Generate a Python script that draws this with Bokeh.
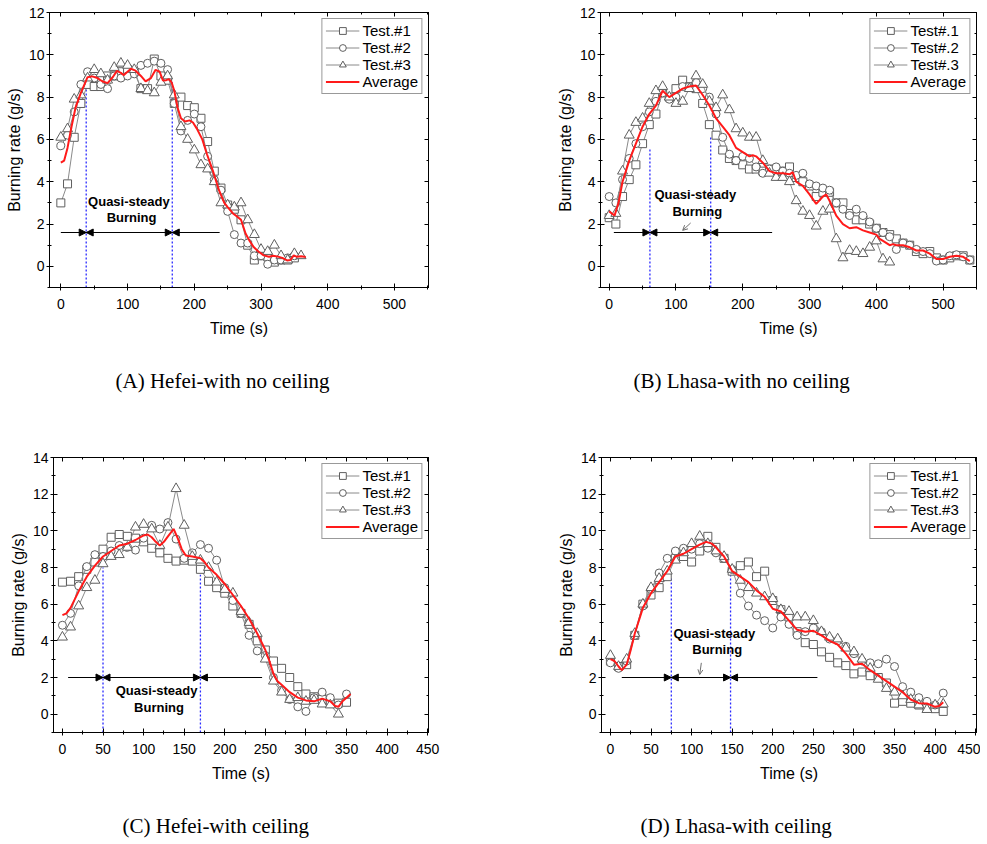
from bokeh.plotting import figure
from bokeh.models import (Range1d, SingleIntervalTicker, LinearAxis, Legend, LegendItem,
                          Title, Arrow, NormalHead, OpenHead, ColumnDataSource)
from bokeh.layouts import column, row
from bokeh.embed import file_html
from bokeh.resources import INLINE
from bokeh.core.properties import value

SANS = "Liberation Sans"
SERIF = "Liberation Serif"

# ---------------- Panel A : Hefei - no ceiling ----------------
tA1 = [0, 10, 20, 30, 40, 50, 60, 70, 80, 90, 100, 110, 120, 130, 140, 150, 160, 170, 180, 190,
       200, 210, 220, 230, 240, 250, 260, 270, 280, 290, 300, 310, 320, 330, 340, 350]
A1 = [3.0, 3.9, 6.1, 7.7, 8.6, 8.5, 8.5, 9.0, 9.0, 9.2, 9.3, 9.2, 8.4, 8.4, 9.8, 9.0, 8.8, 7.7, 8.0, 7.6,
      7.5, 7.0, 5.9, 4.5, 3.7, 2.9, 2.7, 2.2, 1.0, 0.3, 0.5, 0.45, 0.2, 0.3, 0.3, 0.4]
tA2 = [0, 10, 20, 30, 40, 50, 60, 70, 80, 90, 100, 110, 120, 130, 140, 150, 160, 170, 180, 190,
       200, 210, 220, 230, 240, 250, 260, 270, 280, 290, 300, 310, 320, 330, 340, 350]
A2 = [5.7, 6.2, 7.3, 8.6, 9.2, 8.9, 8.6, 8.4, 9.0, 8.9, 9.0, 9.1, 9.5, 9.6, 9.7, 9.6, 9.3, 7.7, 6.4, 6.9,
      7.2, 6.6, 5.2, 4.1, 3.6, 2.6, 1.5, 1.1, 1.1, 0.5, 0.5, 0.1, 0.3, 0.3, 0.4, 0.5]
tA3 = [0, 10, 20, 30, 40, 50, 60, 70, 80, 90, 100, 110, 120, 130, 140, 150, 160, 170, 180, 190,
       200, 210, 220, 230, 240, 250, 260, 270, 280, 290, 300, 310, 320, 330, 340, 350, 360]
A3 = [6.1, 6.5, 7.9, 8.1, 8.9, 9.3, 9.1, 8.8, 9.4, 9.6, 9.5, 9.3, 8.4, 8.3, 8.2, 8.7, 9.0, 8.1, 6.6, 6.0,
      5.5, 4.8, 4.6, 4.0, 3.0, 2.9, 2.8, 3.0, 2.2, 1.5, 0.8, 0.7, 1.0, 0.5, 0.3, 0.6, 0.5]
tAavg = [0, 5, 10, 16, 22, 30, 40, 47, 55, 62, 70, 78, 84, 90, 94, 100, 105, 112, 120, 127,
         135, 142, 148, 153, 158, 162, 166, 170, 175, 180, 186, 193, 198, 204, 212, 219, 228, 237, 245, 250,
         258, 264, 270, 277, 283, 289, 296, 304, 312, 318, 324, 332, 339, 344, 349, 354, 360, 367]
Aavg = [4.9, 5.0, 5.6, 6.6, 7.5, 8.2, 8.94, 8.98, 8.9, 8.75, 8.66, 8.95, 9.24, 9.15, 9.04, 9.2, 9.34, 9.25, 9.0, 8.74,
        8.9, 9.29, 9.2, 8.79, 8.8, 8.85, 8.7, 8.3, 7.5, 7.0, 6.85, 6.9, 6.8, 6.5, 6.0, 5.3, 4.5, 3.6, 3.0, 2.8,
        2.5, 2.36, 2.2, 1.54, 1.2, 0.91, 0.7, 0.52, 0.45, 0.5, 0.47, 0.4, 0.28, 0.3, 0.52, 0.45, 0.48, 0.44]
qA = [38, 167]          # quasi-steady limits (s)
qA_top = [8.7, 8.7]
qA_line = [0, 238, 1.6]  # start, end, level

# ---------------- Panel B : Lhasa - no ceiling ----------------
tB1 = [0, 10, 20, 30, 40, 50, 60, 70, 80, 90, 100, 110, 120, 130, 140, 150, 160, 170, 180, 190,
       200, 210, 220, 230, 240, 250, 260, 270, 280, 290, 300, 310, 320, 330, 340, 350, 360, 370, 380, 390,
       400, 410, 420, 430, 440, 450, 460, 470, 480, 490, 500, 510, 520, 530, 540]
B1 = [2.3, 2.0, 3.3, 4.1, 4.8, 5.8, 6.7, 7.2, 8.2, 8.0, 8.4, 8.8, 8.5, 8.4, 7.7, 6.7, 6.2, 5.5, 5.1, 5.0,
      4.8, 4.6, 4.6, 4.5, 4.6, 4.5, 4.5, 4.7, 4.2, 4.0, 3.8, 3.3, 3.5, 3.5, 3.0, 3.0, 2.5, 2.2, 2.2, 2.0,
      1.8, 1.6, 1.5, 1.3, 1.1, 1.0, 0.7, 0.6, 0.7, 0.4, 0.3, 0.4, 0.5, 0.5, 0.3]
tB2 = tB1
B2 = [3.3, 3.0, 4.1, 5.1, 5.8, 6.6, 7.3, 7.8, 8.2, 7.9, 8.0, 8.5, 8.5, 8.7, 8.4, 8.0, 7.2, 6.1, 5.3, 5.0,
      5.2, 5.1, 4.7, 4.4, 4.6, 4.7, 4.5, 4.4, 4.3, 4.4, 3.9, 3.8, 3.7, 3.6, 3.0, 2.7, 2.4, 2.7, 2.4, 2.1,
      1.8, 1.6, 1.4, 0.8, 1.1, 1.0, 0.8, 0.7, 0.6, 0.25, 0.3, 0.5, 0.55, 0.45, 0.3]
tB3 = [0, 10, 20, 30, 40, 50, 60, 70, 80, 90, 100, 110, 120, 130, 140, 150, 160, 170, 180, 190,
       200, 210, 220, 230, 240, 250, 260, 270, 280, 290, 300, 310, 320, 330, 340, 350, 360, 370, 380, 390,
       400, 410, 420]
B3 = [2.4, 2.5, 4.5, 6.2, 6.8, 7.0, 7.7, 8.3, 8.5, 8.0, 7.7, 7.8, 8.4, 9.0, 8.6, 7.8, 7.5, 8.1, 7.4, 6.5,
      6.3, 6.1, 6.1, 5.0, 4.4, 4.2, 4.2, 4.0, 3.1, 2.6, 2.4, 1.9, 2.6, 2.7, 1.3, 0.4, 0.75, 0.7, 0.6, 0.9,
      1.2, 0.35, 0.2]
tBavg = [0, 8, 14, 20, 30, 40, 50, 60, 70, 80, 90, 100, 110, 120, 130, 140, 150, 160, 170, 180,
         190, 200, 210, 215, 220, 230, 240, 250, 260, 270, 275, 280, 290, 300, 310, 320, 325, 330, 340, 350,
         360, 370, 380, 390, 400, 405, 410, 420, 425, 430, 440, 450, 460, 470, 480, 490, 500, 510, 520, 530, 540]
Bavg = [2.6, 2.4, 3.0, 4.0, 5.0, 5.8, 6.6, 7.2, 7.6, 8.3, 8.0, 8.2, 8.4, 8.5, 8.55, 8.1, 7.6, 7.0, 6.6, 6.2,
        5.6, 5.4, 5.2, 5.25, 5.2, 4.9, 4.5, 4.4, 4.4, 4.35, 4.45, 4.0, 3.8, 3.4, 2.95, 3.3, 3.4, 3.1, 2.4, 2.0,
        1.8, 1.85, 1.7, 1.6, 1.5, 1.3, 1.2, 1.0, 1.05, 1.0, 1.0, 0.9, 0.75, 0.75, 0.6, 0.35, 0.35, 0.45, 0.5, 0.45, 0.25]
qB = [61, 152]
qB_top = [5.6, 6.1]
qB_line = [7, 244, 1.6]
qB_ptr = [122, 2.05, 110, 1.7]

# ---------------- Panel C : Hefei - with ceiling ----------------
tC1 = [0, 10, 20, 30, 40, 50, 60, 70, 80, 90, 100, 110, 120, 130, 140, 150, 160, 170, 180, 190,
       200, 210, 220, 230, 240, 250, 260, 270, 280, 290, 300, 310, 320, 330, 340, 350]
C1 = [7.2, 7.25, 7.5, 7.9, 8.3, 9.0, 9.65, 9.8, 9.7, 9.6, 9.4, 9.05, 8.8, 8.5, 8.35, 8.4, 8.35, 7.9, 7.25, 6.9,
      6.6, 5.9, 5.5, 4.9, 4.0, 3.5, 2.9, 2.5, 2.0, 1.5, 1.1, 0.95, 0.8, 0.6, 0.6, 0.65]
tC2 = tC1
C2 = [4.85, 5.5, 7.0, 8.05, 8.7, 8.6, 8.9, 9.2, 9.1, 8.95, 9.6, 10.3, 10.1, 10.45, 9.55, 8.5, 8.8, 9.25, 9.05, 8.4,
      6.9, 6.2, 5.5, 4.3, 3.45, 3.2, 2.0, 1.3, 0.8, 0.4, 0.15, 0.9, 1.2, 0.9, 0.5, 1.1]
tC3 = [0, 10, 20, 30, 40, 50, 60, 70, 80, 90, 100, 110, 120, 130, 140, 150, 160, 170, 180, 190,
       200, 210, 220, 230, 240, 250, 260, 270, 280, 290, 300, 310, 320, 330, 340]
C3 = [4.2, 4.75, 5.9, 6.9, 7.3, 8.2, 8.6, 8.7, 9.1, 10.2, 10.35, 10.1, 9.2, 10.2, 12.3, 10.3, 8.6, 8.4, 8.0, 7.2,
      6.8, 6.6, 5.6, 5.0, 4.4, 3.0, 1.8, 1.2, 0.8, 0.9, 0.7, 0.75, 0.55, 0.5, 0.0]
tCavg = [0, 5, 10, 20, 30, 40, 50, 60, 70, 80, 90, 100, 105, 110, 115, 120, 125, 130, 137, 142,
         147, 152, 160, 170, 175, 180, 190, 200, 210, 220, 230, 240, 250, 255, 260, 265, 270, 280, 290, 300,
         310, 320, 330, 336, 340, 345, 350, 355]
Cavg = [5.4, 5.5, 5.8, 6.7, 7.5, 8.1, 8.6, 8.9, 9.2, 9.3, 9.5, 9.75, 9.8, 9.65, 9.4, 9.2, 9.4, 9.7, 10.1, 9.6,
        9.0, 8.65, 8.6, 8.5, 8.3, 8.0, 7.6, 7.1, 6.5, 5.9, 5.2, 4.4, 3.5, 2.9, 2.2, 1.8, 1.6, 1.2, 0.9, 0.75,
        0.7, 0.85, 0.7, 0.45, 0.4, 0.7, 0.9, 1.1]
qC = [50, 170]
qC_top = [8.0, 7.6]
qC_line = [7, 246, 2.0]

# ---------------- Panel D : Lhasa - with ceiling ----------------
tD = [0, 10, 20, 30, 40, 50, 60, 70, 80, 90, 100, 110, 120, 130, 140, 150, 160, 170, 180, 190,
      200, 210, 220, 230, 240, 250, 260, 270, 280, 290, 300, 310, 320, 330, 340, 350, 360, 370, 380, 390,
      400, 410]
D1 = [2.9, 2.6, 2.7, 4.3, 6.0, 6.5, 6.9, 7.5, 8.5, 8.6, 8.3, 8.9, 9.7, 9.1, 8.5, 7.8, 8.1, 8.3, 7.5, 7.8,
      6.2, 5.7, 5.3, 4.5, 3.9, 3.8, 3.4, 3.1, 2.8, 2.65, 2.2, 2.3, 2.1, 2.0, 1.7, 0.6, 0.7, 0.6, 0.5, 0.4,
      0.3, 0.15]
D2 = [2.8, 2.5, 2.9, 4.3, 5.9, 6.8, 7.7, 8.5, 8.9, 9.05, 9.0, 9.3, 9.05, 8.8, 8.5, 7.9, 6.6, 5.9, 5.4, 5.1,
      4.7, 5.3, 4.9, 4.3, 4.5, 4.7, 4.5, 4.1, 4.0, 3.7, 3.3, 2.9, 2.8, 2.75, 3.0, 2.6, 1.5, 1.2, 0.9, 0.7,
      0.5, 1.15]
D3 = [3.2, 2.6, 3.0, 4.4, 6.0, 6.9, 7.4, 7.8, 8.4, 8.8, 9.3, 9.7, 9.3, 8.9, 8.6, 7.9, 7.3, 6.9, 6.6, 6.4,
      6.3, 5.7, 5.6, 5.3, 5.3, 5.1, 4.5, 4.2, 4.1, 3.6, 3.4, 3.0, 2.5, 1.9, 1.4, 1.2, 1.0, 0.8, 0.5, 0.25,
      0.5, 0.55]
tDavg = [0, 5, 10, 14, 20, 25, 30, 40, 50, 60, 70, 75, 80, 90, 100, 110, 118, 125, 130, 140,
         150, 160, 170, 180, 190, 200, 210, 220, 230, 240, 250, 260, 270, 280, 290, 300, 310, 320, 330, 340,
         350, 360, 370, 380, 390, 400, 405, 410]
Davg = [3.0, 2.9, 2.6, 2.4, 2.7, 3.5, 4.4, 5.8, 6.6, 7.2, 7.8, 8.2, 8.6, 8.75, 9.0, 9.25, 9.4, 9.3, 9.1, 8.6,
        7.8, 7.5, 7.2, 6.75, 6.4, 5.75, 5.6, 5.1, 4.6, 4.5, 4.55, 4.3, 4.0, 3.8, 3.3, 2.7, 2.75, 2.4, 2.1, 1.8,
        1.5, 1.2, 0.8, 0.6, 0.58, 0.4, 0.45, 0.65]
qD = [75, 148]
qD_top = [7.5, 7.7]
qD_line = [14, 255, 2.0]
qD_ptr = [112, 2.8, 110, 2.16]

labels_hefei = ["Test.#1", "Test.#2", "Test.#3", "Average"]
labels_lhasa_nc = ["Test#.1", "Test#.2", "Test#.3", "Average"]
labels_lhasa_c = ["Test.#1", "Test.#2", "Test.#3", "Average"]
quasi_text = ["Quasi-steady", "Burning"]

captions = ["(A) Hefei-with no ceiling", "(B) Lhasa-with no ceiling",
            "(C) Hefei-with ceiling", "(D) Lhasa-with ceiling"]

MARK_LINE = "#5f5f5f"
SER_LINE = "#8a8a8a"


def make_panel(w, h, borders, xr, yr, xint, tests, avg, labels, q, q_top, q_line,
               txt_xy, caption, cap_offset, gap, ptr=None):
    p = figure(width=w, height=h, x_range=Range1d(*xr), y_range=Range1d(*yr),
               output_backend="svg", toolbar_location=None,
               min_border_left=borders[0], min_border_right=borders[1],
               min_border_top=borders[2], min_border_bottom=borders[3])
    p.grid.visible = False
    p.outline_line_color = "black"
    p.background_fill_color = "white"
    p.border_fill_color = "white"

    p.xaxis.ticker = SingleIntervalTicker(interval=xint, num_minor_ticks=2)
    p.yaxis.ticker = SingleIntervalTicker(interval=2, num_minor_ticks=2)
    for ax in (p.xaxis[0], p.yaxis[0]):
        ax.axis_line_color = "black"
        ax.major_tick_line_color = "black"
        ax.minor_tick_line_color = "black"
        ax.major_tick_in = 4
        ax.major_tick_out = 3
        ax.minor_tick_in = 2
        ax.minor_tick_out = 2
        ax.major_label_text_font = SANS
        ax.major_label_text_font_size = "14px"
        ax.major_label_text_color = "black"
        ax.axis_label_text_font = SANS
        ax.axis_label_text_font_size = "16px"
        ax.axis_label_text_font_style = "normal"
        ax.axis_label_text_color = "black"
    p.xaxis.axis_label = "Time (s)"
    p.yaxis.axis_label = "Burning rate (g/s)"
    p.xaxis.major_label_standoff = 8
    p.xaxis.axis_label_standoff = 8
    p.yaxis.major_label_standoff = 2
    p.yaxis.axis_label_standoff = 3

    top = LinearAxis(ticker=SingleIntervalTicker(interval=xint, num_minor_ticks=2),
                     major_label_text_color=None, major_tick_in=4, major_tick_out=0,
                     minor_tick_in=2, minor_tick_out=0, major_label_standoff=0,
                     axis_line_color="black")
    p.add_layout(top, "above")
    right = LinearAxis(ticker=SingleIntervalTicker(interval=2, num_minor_ticks=2),
                       major_label_text_color=None, major_tick_in=4, major_tick_out=0,
                       minor_tick_in=2, minor_tick_out=0, major_label_standoff=0,
                       axis_line_color="black")
    p.add_layout(right, "right")

    # quasi-steady markers
    p.segment(x0=q, y0=[yr[0], yr[0]], x1=q, y1=q_top, line_color="#2a2aff",
              line_width=1.3, line_dash="2 2")
    p.segment(x0=[q_line[0]], y0=[q_line[2]], x1=[q_line[1]], y1=[q_line[2]],
              line_color="black", line_width=1)
    dx = (xr[1] - xr[0]) * 0.02
    src = ColumnDataSource(dict(
        x0=[q[0] - dx, q[0] + dx, q[1] - dx, q[1] + dx],
        x1=[q[0], q[0], q[1], q[1]],
        y=[q_line[2]] * 4))
    p.add_layout(Arrow(end=NormalHead(size=7, fill_color="black", line_color="black"),
                       source=src, x_start="x0", y_start="y", x_end="x1", y_end="y",
                       line_color="black", line_width=1))
    if ptr is not None:
        p.add_layout(Arrow(end=OpenHead(size=5, line_color="#707070", line_width=1),
                           x_start=ptr[0], y_start=ptr[1], x_end=ptr[2], y_end=ptr[3],
                           line_color="#707070", line_width=1))
    p.text(x=txt_xy[0], y=txt_xy[1], text=quasi_text, text_font=value(SANS),
           text_font_style="bold", text_font_size="13px", text_align="center",
           text_baseline="middle", text_color="black")

    markers = ["square", "circle", "triangle"]
    msizes = [8, 8, 10]
    items = []
    for (tx, ty), mk, ms, lab in zip(tests, markers, msizes, labels[:3]):
        ln = p.line(tx, ty, line_color=SER_LINE, line_width=1)
        sc = p.scatter(tx, ty, marker=mk, size=ms, line_color=MARK_LINE, line_width=1,
                       fill_color="white")
        items.append(LegendItem(label=lab, renderers=[ln, sc]))
    red = p.line(avg[0], avg[1], line_color="#ff1a1a", line_width=2)
    items.append(LegendItem(label=labels[3], renderers=[red]))

    leg = Legend(items=items, location="top_right", margin=6, padding=3, spacing=0,
                 label_height=17, glyph_height=17, glyph_width=34, label_standoff=3,
                 label_text_font=SANS, label_text_font_size="15px", label_text_color="black",
                 border_line_color="#333333", border_line_width=1,
                 background_fill_color="white", background_fill_alpha=1)
    p.add_layout(leg)

    # spacing block between the axis title and the caption
    p.add_layout(Title(text=" ", text_font_size="10px", standoff=gap), "below")
    p.add_layout(Title(text=caption, align="left", offset=cap_offset, standoff=0,
                       text_font=SERIF, text_font_size="21px", text_font_style="normal",
                       text_color="black"), "below")
    return p


pA = make_panel(500, 445, (49, 72, 12, 158), (-17, 551), (-1, 12), 100,
                [(tA1, A1), (tA2, A2), (tA3, A3)], (tAavg, Aavg), labels_hefei,
                qA, qA_top, qA_line, ([102, 106], [3.07, 2.3]), captions[0], 66, 14)
pB = make_panel(480, 445, (100, 4, 12, 158), (-13, 550), (-1, 12), 100,
                [(tB1, B1), (tB2, B2), (tB3, B3)], (tBavg, Bavg), labels_lhasa_nc,
                qB, qB_top, qB_line, ([129, 132], [3.39, 2.58]), captions[1], 33, 14, ptr=qB_ptr)
pC = make_panel(500, 396, (53, 72, 12, 109), (-11, 451), (-1, 14), 50,
                [(tC1, C1), (tC2, C2), (tC3, C3)], (tCavg, Cavg), labels_hefei,
                qC, qC_top, qC_line, ([116, 119], [1.27, 0.36]), captions[2], 69, 14)
pD = make_panel(480, 396, (101, 4, 12, 109), (-11, 451), (-1, 14), 50,
                [(tD, D1), (tD, D2), (tD, D3)], (tDavg, Davg), labels_lhasa_c,
                qD, qD_top, qD_line, ([128, 131.5], [4.42, 3.52]), captions[3], 39, 14, ptr=qD_ptr)

layout = column(row(pA, pB), row(pC, pD))
open("out.html", "w").write(file_html(layout, INLINE))
